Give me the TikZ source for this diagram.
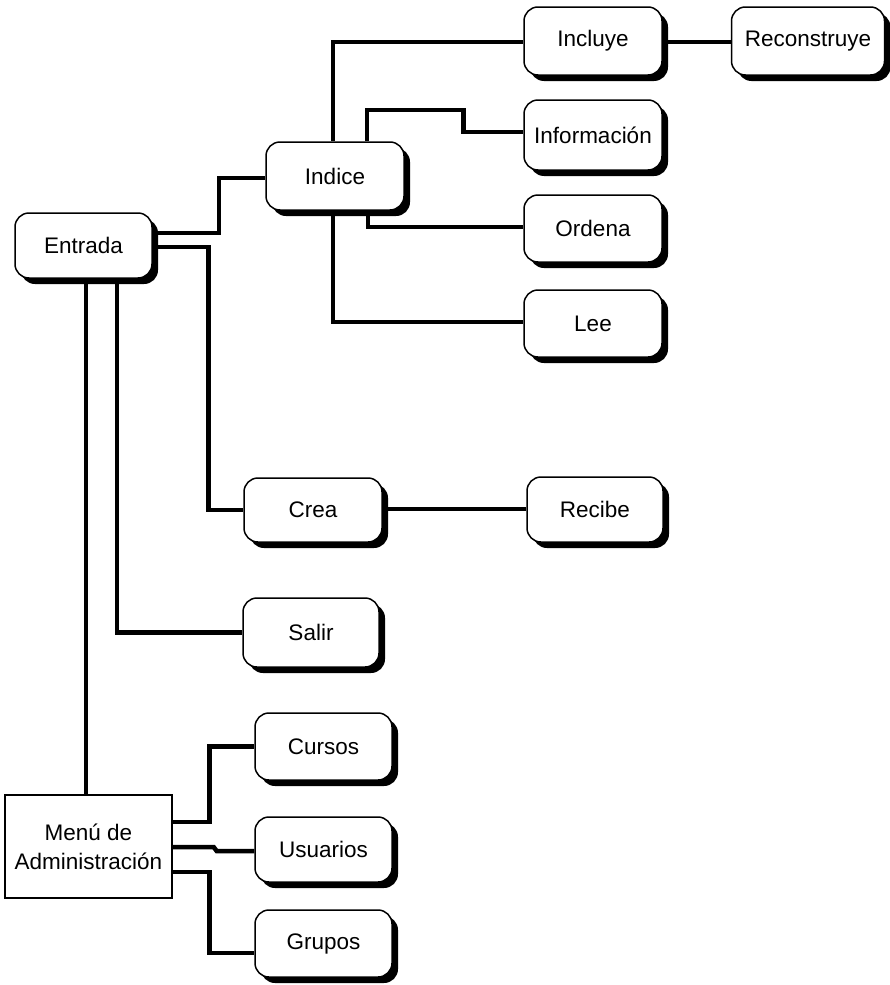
\documentclass[tikz,border=0pt]{standalone}
\usepackage{fontspec}
\setmainfont{Liberation Sans}
\usetikzlibrary{calc,shadows,backgrounds}

\tikzset{
  box/.style={draw=black, line width=1.5pt, fill=white, rounded corners=14pt,
    inner sep=0pt, minimum width=138pt, minimum height=67pt,
    font=\fontsize{22.5}{26}\selectfont,
    drop shadow={shadow xshift=6pt, shadow yshift=-6pt, fill=black, opacity=1}},
  menubox/.style={draw=black, line width=1.3pt, fill=white, inner sep=0pt,
    minimum width=167pt, minimum height=103pt, align=center,
    font=\fontsize{22.5}{29}\selectfont},
  link/.style={draw=black, line width=4.5pt, line join=miter}
}

\begin{document}
\begin{tikzpicture}[x=1pt, y=-1pt]
  \useasboundingbox (0,0) rectangle (890,985);

  % boxes
  \node[box, minimum width=137pt, minimum height=65pt] (Entrada) at (83.5,245.5) {Entrada};
  \node[box, minimum height=68pt] (Indice) at (335,176) {Indice};
  \node[box, minimum height=68pt] (Incluye) at (593,41) {Incluye};
  \node[box, minimum width=153pt, minimum height=68pt] (Reconstruye) at (808,41) {Reconstruye};
  \node[box, minimum height=70pt] (Info) at (593,135) {Información};
  \node[box] (Ordena) at (593,228.5) {Ordena};
  \node[box] (Lee) at (593,323.5) {Lee};
  \node[box, minimum height=64pt] (Crea) at (313,510) {Crea};
  \node[box, minimum width=136pt, minimum height=65pt] (Recibe) at (595,509.5) {Recibe};
  \node[box, minimum width=136pt, minimum height=69pt] (Salir) at (311,632.5) {Salir};
  \node[box, minimum width=137pt] (Cursos) at (323.5,746.5) {Cursos};
  \node[box, minimum width=137pt, minimum height=65pt] (Usuarios) at (323.5,849.5) {Usuarios};
  \node[box, minimum width=137pt] (Grupos) at (323.5,943.5) {Grupos};
  \node[menubox] (Menu) at (88.5,846.5) {Menú de\\Administración};

  % connectors, kept behind the boxes
  \begin{pgfonlayer}{background}
    \draw[link] ($(Entrada.east)+(0,-12.5)$) -- ++(66,0) |- ($(Indice.west)+(0,2)$);
    \draw[link] ($(Entrada.east)+(0,1.5)$) -| ($(Crea.west)+(-35,0)$) -- (Crea.west);
    \draw[link] ($(Entrada.south)+(33.5,0)$) |- (Salir.west);
    \draw[link] (Menu.north -| 86,0) -- (86,278);

    \draw[link] ($(Indice.north)+(-2,0)$) |- ($(Incluye.west)+(0,1)$);
    \coordinate (infojog) at ($(Info.west)+(-60,-25)$);
    \draw[link] ($(Indice.north)+(32,0)$) |- (infojog) |- ($(Info.west)+(0,-3)$);
    \draw[link] ($(Indice.south)+(33,0)$) |- ($(Ordena.west)+(0,-1.5)$);
    \draw[link] ($(Indice.south)+(-2,0)$) |- ($(Lee.west)+(0,-1.5)$);

    \draw[link] (Incluye.east |- 0,42) -- (Reconstruye.west |- 0,42);
    \draw[link] (Crea.east |- 0,509) -- (Recibe.west |- 0,509);

    \draw[link] ($(Menu.east)+(0,-24.5)$) -| ($(Cursos.west)+(-45,0)$) -- (Cursos.west);
    \draw[link] ($(Menu.east)+(0,0.5)$) -- ++(41,0) -- ++(3,4) -- ($(Usuarios.west)+(0,1.5)$);
    \draw[link] ($(Menu.east)+(0,25.5)$) -| ($(Grupos.west)+(-45,9.5)$) -- ($(Grupos.west)+(0,9.5)$);
  \end{pgfonlayer}
\end{tikzpicture}
\end{document}
